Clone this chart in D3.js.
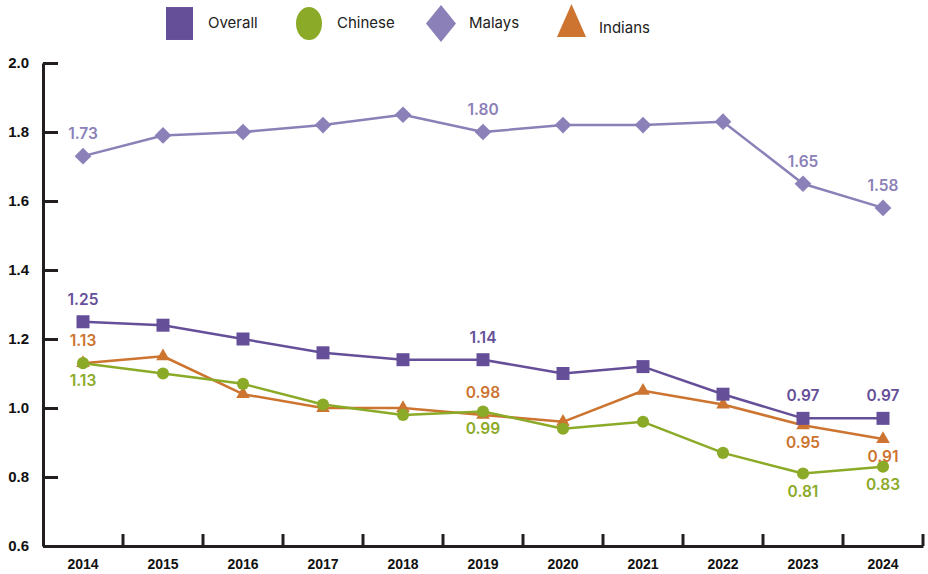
<!DOCTYPE html>
<html>
<head>
<meta charset="utf-8">
<script src="https://cdn.jsdelivr.net/npm/d3@7/dist/d3.min.js"></script>
<style>
  html, body { margin: 0; padding: 0; background: #fff; }
  svg { display: block; font-family: Inter, "Open Sans", sans-serif; }
</style>
</head>
<body>
<svg id="chart" width="928" height="574"></svg>
<script>
// Total fertility rate by ethnic group, 2014–2024
const years = ["2014","2015","2016","2017","2018","2019","2020","2021","2022","2023","2024"];
const overall = [1.25, 1.24, 1.20, 1.16, 1.14, 1.14, 1.10, 1.12, 1.04, 0.97, 0.97];
const chinese = [1.13, 1.10, 1.07, 1.01, 0.98, 0.99, 0.94, 0.96, 0.87, 0.81, 0.83];
const malays  = [1.73, 1.79, 1.80, 1.82, 1.85, 1.80, 1.82, 1.82, 1.83, 1.65, 1.58];
const indians = [1.13, 1.15, 1.04, 1.00, 1.00, 0.98, 0.96, 1.05, 1.01, 0.95, 0.91];
const yTicks = [0.6, 0.8, 1.0, 1.2, 1.4, 1.6, 1.8, 2.0];

// Which points carry a value label, and on which side of the marker
const overallLabels = [["2014","above"],["2019","above"],["2023","above"],["2024","above"]];
const chineseLabels = [["2014","below"],["2019","below"],["2023","below"],["2024","below"]];
const malaysLabels  = [["2014","above"],["2019","above"],["2023","above"],["2024","above"]];
const indiansLabels = [["2014","above"],["2019","above"],["2023","below"],["2024","below"]];

const svg = d3.select("#chart");
const plotLeft = 43, plotRight = 923, plotTop = 63, plotBottom = 546;

const x = d3.scaleBand().domain(years).range([plotLeft, plotRight]);
const y = d3.scaleLinear().domain([0.6, 2.0]).range([plotBottom, plotTop]);
const cx = d => x(d) + x.bandwidth() / 2;

// Diamonds are squares turned by 45°
const series = [
  { name: "Indians", values: indians, color: "#CC7430", shape: d3.symbolTriangle, size: 80,  rot: 0,  labels: indiansLabels },
  { name: "Chinese", values: chinese, color: "#8BAA27", shape: d3.symbolCircle,   size: 115, rot: 0,  labels: chineseLabels },
  { name: "Malays",  values: malays,  color: "#8B80B7", shape: d3.symbolSquare,   size: 140, rot: 45, labels: malaysLabels },
  { name: "Overall", values: overall, color: "#654F99", shape: d3.symbolSquare,   size: 169, rot: 0,  labels: overallLabels }
];

// Axes
const axisColor = "#231F20";
const yAxis = d3.axisLeft(y).tickValues(yTicks).tickFormat(d3.format(".1f"))
  .tickSizeInner(-15).tickSizeOuter(0).tickPadding(14);
const gy = svg.append("g").attr("transform", `translate(${plotLeft},0)`).call(yAxis);
gy.select(".domain").attr("stroke", axisColor).attr("stroke-width", 3);
gy.selectAll(".tick line").attr("stroke", axisColor).attr("stroke-width", 3);
gy.selectAll(".tick text").attr("fill", "#111").attr("font-size", 15).attr("font-weight", 700);

const xAxis = d3.axisBottom(x).tickSize(0).tickPadding(13);
const gx = svg.append("g").attr("transform", `translate(0,${plotBottom})`).call(xAxis);
gx.select(".domain").attr("stroke", axisColor).attr("stroke-width", 3);
gx.selectAll(".tick text").attr("fill", "#111").attr("font-size", 14).attr("font-weight", 700);
gx.selectAll(".edge").data(years).enter().append("line")
  .attr("x1", d => x(d) + x.bandwidth()).attr("x2", d => x(d) + x.bandwidth())
  .attr("y1", 0).attr("y2", -12)
  .attr("stroke", axisColor).attr("stroke-width", 3);

// Lines first, then markers on top of all lines
const line = d3.line().x((v, i) => cx(years[i])).y(v => y(v));
series.forEach(s => {
  svg.append("path").datum(s.values).attr("d", line)
    .attr("fill", "none").attr("stroke", s.color).attr("stroke-width", 2.5)
    .attr("stroke-linejoin", "round");
});
series.forEach(s => {
  svg.append("g").selectAll("path").data(s.values).enter().append("path")
    .attr("d", d3.symbol().type(s.shape).size(s.size))
    .attr("transform", (v, i) => `translate(${cx(years[i])},${y(v)}) rotate(${s.rot})`)
    .attr("fill", s.color);
});

// Value labels
series.forEach(s => {
  svg.append("g").selectAll("text").data(s.labels).enter().append("text")
    .attr("x", d => cx(d[0]))
    .attr("y", d => {
      const v = s.values[years.indexOf(d[0])];
      return y(v) + (d[1] === "above" ? -17 : 23);
    })
    .attr("text-anchor", "middle")
    .attr("fill", s.color).attr("font-size", 15.5).attr("font-weight", 600)
    .text(d => d3.format(".2f")(s.values[years.indexOf(d[0])]));
});

// Legend (markers are drawn slightly tall)
const legendItems = [
  { name: "Overall", color: "#654F99", shape: d3.symbolSquare,   size: 729, rot: 0,  sx: 179.5, sy: 23.5, stretch: 1.22, tx: 208, ty: 23 },
  { name: "Chinese", color: "#8BAA27", shape: d3.symbolCircle,   size: 531, rot: 0,  sx: 309,   sy: 23.5, stretch: 1.27, tx: 337, ty: 23 },
  { name: "Malays",  color: "#8B80B7", shape: d3.symbolSquare,   size: 450, rot: 45, sx: 441,   sy: 23.5, stretch: 1.23, tx: 469, ty: 23 },
  { name: "Indians", color: "#CC7430", shape: d3.symbolTriangle, size: 364, rot: 0,  sx: 571.5, sy: 26,   stretch: 1.32, tx: 599, ty: 28 }
];
const lg = svg.append("g");
legendItems.forEach(it => {
  lg.append("path")
    .attr("d", d3.symbol().type(it.shape).size(it.size))
    .attr("transform", `translate(${it.sx},${it.sy}) scale(1,${it.stretch}) rotate(${it.rot})`)
    .attr("fill", it.color);
  lg.append("text").attr("x", it.tx).attr("y", it.ty).attr("dy", "0.35em")
    .attr("fill", "#222").attr("font-size", 15)
    .text(it.name);
});
</script>
</body>
</html>
